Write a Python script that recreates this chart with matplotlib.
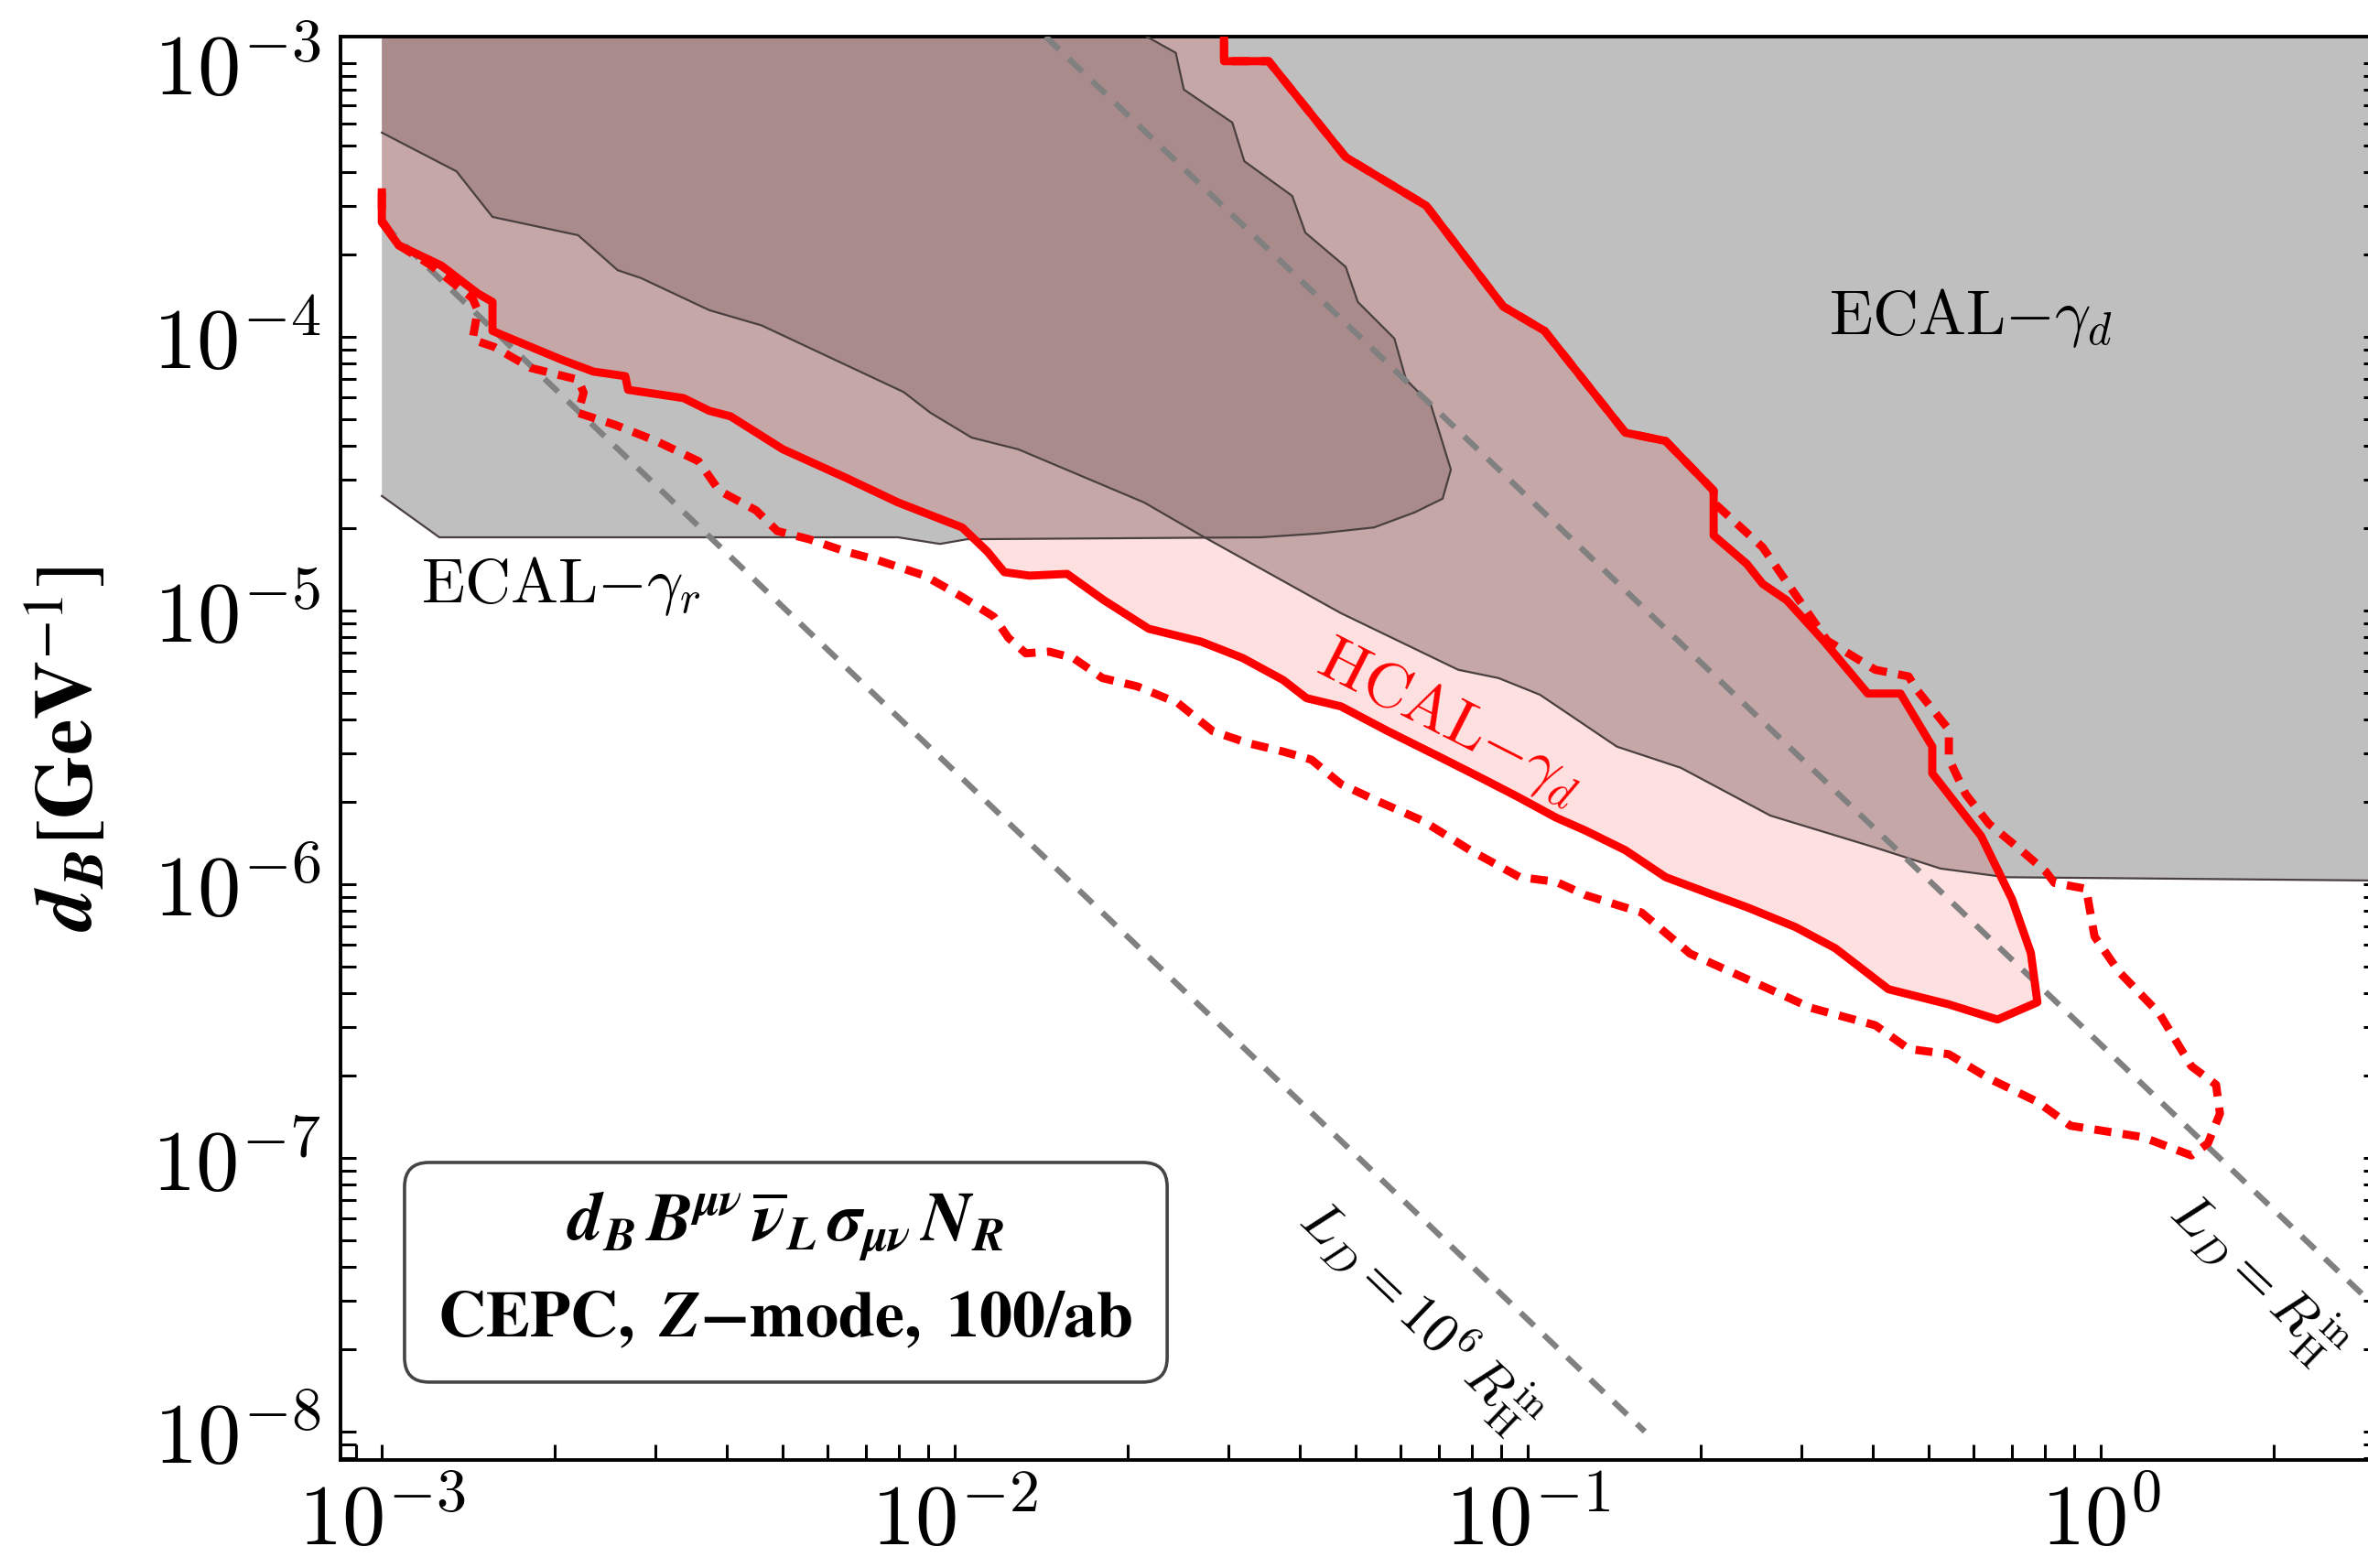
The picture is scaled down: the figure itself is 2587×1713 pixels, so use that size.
import math
import matplotlib.pyplot as plt
from matplotlib.patches import FancyBboxPatch
from matplotlib.ticker import LogLocator, NullFormatter, FuncFormatter

plt.rcParams['mathtext.fontset'] = 'cm'
plt.rcParams['font.family'] = 'serif'

# ECAL - gamma_d excluded region, lower boundary (m [GeV], d_B [GeV^-1])
ecald_m = [0.001, 0.00135, 0.00156, 0.00220, 0.00258, 0.00283, 0.00373, 0.00460, 0.00814,
           0.00906, 0.0107, 0.0129, 0.0214, 0.0269, 0.0472, 0.0756, 0.0889, 0.105, 0.143,
           0.185, 0.265, 0.404, 0.525, 0.682, 3.1]
ecald_d = [5.57e-4, 4.02e-4, 2.74e-4, 2.35e-4, 1.75e-4, 1.64e-4, 1.25e-4, 1.10e-4, 6.28e-5,
           5.28e-5, 4.28e-5, 3.88e-5, 2.48e-5, 1.88e-5, 9.77e-6, 6.07e-6, 5.66e-6, 4.92e-6,
           3.18e-6, 2.66e-6, 1.78e-6, 1.36e-6, 1.14e-6, 1.06e-6, 1.03e-6]

# ECAL - gamma_r region, bottom and right boundary
ecalr_m = [0.001, 0.00126, 0.00796, 0.00942, 0.0105, 0.0342, 0.0430, 0.0539, 0.0634, 0.0710,
           0.0734, 0.0677, 0.0613, 0.0585, 0.0505, 0.0481, 0.0409, 0.0388, 0.0320, 0.0305,
           0.0251, 0.0243, 0.0209]
ecalr_d = [2.62e-5, 1.85e-5, 1.85e-5, 1.75e-5, 1.82e-5, 1.85e-5, 1.91e-5, 2.01e-5, 2.28e-5,
           2.56e-5, 3.27e-5, 5.66e-5, 6.97e-5, 9.85e-5, 1.34e-4, 1.80e-4, 2.40e-4, 3.27e-4,
           4.38e-4, 6.06e-4, 8.00e-4, 1.09e-3, 1.3e-3]

# HCAL - gamma_d sensitivity, solid contour
hcal_m = [0.0295, 0.0295, 0.0353, 0.0481, 0.0665, 0.0906, 0.107, 0.148, 0.174, 0.211,
          0.211, 0.241, 0.257, 0.283, 0.328, 0.392, 0.447, 0.508, 0.508, 0.618,
          0.700, 0.755, 0.775, 0.660, 0.542, 0.426, 0.344, 0.293,
          0.241, 0.211, 0.174, 0.148, 0.126, 0.112, 0.0958, 0.0830, 0.0705, 0.0570,
          0.0472, 0.0411, 0.0374, 0.0318, 0.0269, 0.0218, 0.0182, 0.0157, 0.0135, 0.0122,
          0.0114, 0.0103, 0.00796, 0.00646, 0.00501, 0.00406, 0.00373, 0.00336, 0.00269, 0.00266,
          0.00234, 0.00206, 0.00182, 0.00156, 0.00156, 0.00147, 0.00127, 0.00107, 0.001, 0.001]
hcal_d = [1.3e-3, 1.016e-3, 1.016e-3, 4.53e-4, 3.01e-4, 1.29e-4, 1.05e-4, 4.46e-5, 4.16e-5, 2.74e-5,
          1.88e-5, 1.48e-5, 1.25e-5, 1.09e-5, 7.76e-6, 4.97e-6, 4.97e-6, 3.18e-6, 2.54e-6, 1.50e-6,
          8.8e-7, 5.6e-7, 3.7e-7, 3.2e-7, 3.64e-7, 4.13e-7, 5.83e-7, 6.97e-7,
          8.24e-7, 9.12e-7, 1.06e-6, 1.33e-6, 1.57e-6, 1.75e-6, 2.09e-6, 2.44e-6, 2.90e-6, 3.62e-6,
          4.46e-6, 4.78e-6, 5.57e-6, 6.70e-6, 7.69e-6, 8.57e-6, 1.09e-5, 1.36e-5, 1.34e-5, 1.38e-5,
          1.64e-5, 2.01e-5, 2.48e-5, 3.05e-5, 3.88e-5, 5.12e-5, 5.36e-5, 5.97e-5, 6.40e-5, 7.18e-5,
          7.46e-5, 8.24e-5, 9.18e-5, 1.05e-4, 1.34e-4, 1.44e-4, 1.82e-4, 2.16e-4, 2.62e-4, 3.37e-4]

# HCAL - gamma_d, dashed contour
hdash_m = [0.001, 0.001, 0.00107, 0.00122, 0.00144, 0.00147, 0.00144, 0.00157, 0.00182, 0.00220,
           0.00225, 0.00220, 0.00255, 0.00301, 0.00357, 0.00388, 0.00450, 0.00490, 0.00557, 0.00646,
           0.00731, 0.00886, 0.0103, 0.0117, 0.0124, 0.0133, 0.0146, 0.0161, 0.0181, 0.0208,
           0.0245, 0.0282, 0.0324, 0.0374, 0.0419, 0.0472, 0.0544, 0.0657, 0.0793, 0.0968,
           0.112, 0.126, 0.158, 0.192, 0.226, 0.265, 0.312, 0.404, 0.462, 0.543,
           0.638, 0.776, 0.885, 1.184, 1.439, 1.538, 1.614, 1.589, 1.439, 1.265,
           1.076, 0.975, 0.943, 0.830, 0.802, 0.726, 0.638, 0.581, 0.543, 0.543,
           0.475, 0.462, 0.404, 0.333, 0.257, 0.211, 0.211, 0.174, 0.148, 0.107,
           0.0906, 0.0665, 0.0481, 0.0353, 0.0295, 0.0295]
hdash_d = [3.37e-4, 2.66e-4, 2.16e-4, 1.82e-4, 1.38e-4, 1.25e-4, 9.77e-5, 9.18e-5, 7.69e-5, 6.97e-5,
           6.25e-5, 5.27e-5, 4.77e-5, 4.16e-5, 3.51e-5, 2.74e-5, 2.32e-5, 1.95e-5, 1.82e-5, 1.64e-5,
           1.53e-5, 1.34e-5, 1.12e-5, 9.48e-6, 7.94e-6, 6.97e-6, 7.07e-6, 6.70e-6, 5.66e-6, 5.28e-6,
           4.59e-6, 3.62e-6, 3.28e-6, 3.05e-6, 2.85e-6, 2.32e-6, 2.02e-6, 1.70e-6, 1.33e-6, 1.06e-6,
           1.02e-6, 9.12e-7, 7.87e-7, 5.57e-7, 4.78e-7, 4.12e-7, 3.53e-7, 3.05e-7, 2.50e-7, 2.39e-7,
           1.95e-7, 1.60e-7, 1.31e-7, 1.19e-7, 1.02e-7, 1.13e-7, 1.45e-7, 1.85e-7, 2.16e-7, 3.37e-7,
           4.78e-7, 6.44e-7, 9.61e-7, 1.01e-6, 1.11e-6, 1.33e-6, 1.66e-6, 2.13e-6, 2.87e-6, 3.67e-6,
           5.20e-6, 5.74e-6, 6.07e-6, 7.76e-6, 1.70e-5, 2.48e-5, 2.74e-5, 4.16e-5, 4.46e-5, 1.05e-4,
           1.29e-4, 3.01e-4, 4.53e-4, 1.016e-3, 1.016e-3, 1.3e-3]

# decay length lines L_D = R_H^in and L_D = 10^6 R_H^in (end points)
ld1_m = [0.0144, 3.1]
ld1_d = [1.25e-3, 2.7e-8]
ld2_m = [0.001, 0.16]
ld2_d = [2.6e-4, 1.0e-8]

TOP = 1.3e-3
RIGHT = 3.1

fig = plt.figure(figsize=(12.935, 8.565), dpi=200)
ax = fig.add_axes([0.1438, 0.0689, 0.8609, 0.9078])
ax.set_xscale('log')
ax.set_yscale('log')

grey = 'gray'
ax.fill([0.001] + ecald_m + [RIGHT], [TOP] + ecald_d + [TOP], color=grey, alpha=0.5, lw=0, zorder=1)
ax.fill([0.001] + ecalr_m, [TOP] + ecalr_d, color=grey, alpha=0.5, lw=0, zorder=1)
ax.fill(hcal_m + [0.001], hcal_d + [TOP], color='red', alpha=0.12, lw=0, zorder=2)

ax.plot(ecald_m, ecald_d, color='#4a4040', lw=0.8, zorder=3)
ax.plot(ecalr_m, ecalr_d, color='#4a4040', lw=0.8, zorder=3)

ax.plot(ld1_m, ld1_d, color='gray', lw=2.3, ls=(0, (3.2, 2.3)), zorder=4)
ax.plot(ld2_m, ld2_d, color='gray', lw=2.3, ls=(0, (3.2, 2.3)), zorder=4)

ax.plot(hdash_m, hdash_d, color='red', lw=3.2, ls=(0, (2.1, 1.4)), zorder=5)
ax.plot(hcal_m, hcal_d, color='red', lw=3.2, zorder=6)

ax.set_xlim(8.47e-4, 3.06)
ax.set_ylim(7.87e-9, 1.25e-3)

fmt = FuncFormatter(lambda v, p: r'$10^{%d}$' % round(math.log10(v)))
for axis in (ax.xaxis, ax.yaxis):
    axis.set_major_locator(LogLocator(base=10, numticks=20))
    axis.set_minor_locator(LogLocator(base=10, subs=range(2, 10), numticks=50))
    axis.set_major_formatter(fmt)
    axis.set_minor_formatter(NullFormatter())
ax.tick_params(which='both', direction='in', length=6, width=1.1, top=False, right=True)
ax.tick_params(axis='both', labelsize=34, pad=8)
for s in ax.spines.values():
    s.set_linewidth(1.4)

ax.set_ylabel(r'$\mathbfit{d_B}[\mathbf{GeV}^{-1}]$', fontsize=32, math_fontfamily='stix')
ax.yaxis.set_label_coords(-0.113, 0.5)

ax.text(0.593, 1.17e-4, r'$\mathrm{ECAL}{-}\gamma_d$', fontsize=25, ha='center', va='center', zorder=7)
ax.text(0.00117, 1.23e-5, r'$\mathrm{ECAL}{-}\gamma_r$', fontsize=25, ha='left', va='center', zorder=7)
ax.text(0.0731, 3.91e-6, r'$\mathrm{HCAL}{-}\gamma_d$', fontsize=25, color='red', ha='center',
        va='center', rotation=-27, rotation_mode='anchor', zorder=7)
ax.text(0.0647, 2.6e-8, r'$L_D = 10^6\,R_{\rm H}^{\rm in}$', fontsize=22, ha='center', va='center',
        rotation=-43.7, rotation_mode='anchor', zorder=7)
ax.text(1.88, 3.6e-8, r'$L_D = R_{\rm H}^{\rm in}$', fontsize=22, ha='center', va='center',
        rotation=-43.7, rotation_mode='anchor', zorder=7)

box = FancyBboxPatch((0.0314, 0.0547), 0.3741, 0.1543, boxstyle='round,pad=0,rounding_size=0.012',
                     mutation_aspect=1.43, transform=ax.transAxes, facecolor='white',
                     edgecolor='#444444', lw=1.3, zorder=8)
ax.add_patch(box)
ax.text(0.218, 0.164,
        r'$\mathbfit{d_B\,B^{\mu\nu}}\,\overline{\mathbfit{\nu}}_{\mathbfit{L}}\,'
        r'\mathbfit{\sigma_{\mu\nu}\,N_R}$',
        transform=ax.transAxes, fontsize=27, ha='center', va='center', math_fontfamily='stix', zorder=9)
ax.text(0.218, 0.0997, r'$\mathbf{CEPC,}\ \mathbfit{Z}\mathbf{-mode,\ 100/ab}$', transform=ax.transAxes,
        fontsize=26, ha='center', va='center', math_fontfamily='stix', zorder=9)

fig.savefig('out.png', dpi=200)
